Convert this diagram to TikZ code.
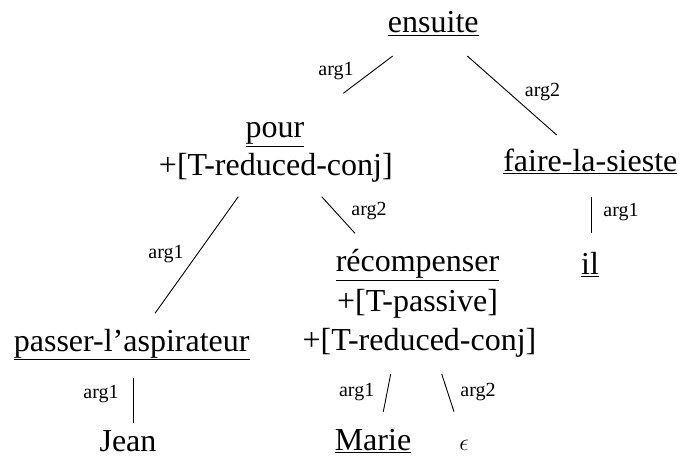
\RequirePackage{fix-cm}
\documentclass[tikz,border=0pt]{standalone}
\usepackage{fontspec}
\setmainfont{Liberation Serif}
\begin{document}
\begin{tikzpicture}[x=1pt,y=-1pt,
  word/.style={font=\fontsize{32}{38}\selectfont, inner sep=0pt, anchor=base},
  lab/.style={font=\fontsize{20}{24}\selectfont, inner sep=0pt, anchor=base},
  conn/.style={line width=0.9pt}]
\useasboundingbox (0,0) rectangle (680,462);
% nodes
\node[word] (ensuite) at (433.3,33) {\underline{ensuite}};
\node[word] (pour) at (275,138) {\underline{pour}};
\node[word] (pourT) at (275.8,176) {+[T-reduced-conj]};
\node[word] (faire) at (590.3,171.7) {\underline{faire-la-sieste}};
\node[word] (il) at (590,275) {\underline{il}};
\node[word] (recomp) at (417.5,271.7) {\underline{récompenser}};
\node[word] (passive) at (417.5,311.7) {+[T-passive]};
\node[word] (recompT) at (419.5,350.5) {+[T-reduced-conj]};
\node[word] (passer) at (131.7,351) {\underline{passer-l'aspirateur}};
\node[word] (jean) at (128,451.7) {Jean};
\node[word] (marie) at (373,450) {\underline{Marie}};
\node[word, font=\fontsize{24}{28}\selectfont] (eps) at (464,450) {$\epsilon$};
% labels
\node[lab] (l1) at (336,76) {arg1};
\node[lab] (l2) at (542.5,96.7) {arg2};
\node[lab] (l3) at (166,259) {arg1};
\node[lab] (l4) at (369,215.7) {arg2};
\node[lab] (l5) at (621,216.7) {arg1};
\node[lab] (l6) at (101,398) {arg1};
\node[lab] (l7) at (356.7,396.7) {arg1};
\node[lab] (l8) at (478,396.7) {arg2};
% connectors
\draw[conn] ([xshift=-40.6pt,yshift=-23pt]ensuite.base) -- ([xshift=68.3pt,yshift=44.7pt]pour.base);
\draw[conn] ([xshift=34pt,yshift=-23pt]ensuite.base) -- ([xshift=-33.6pt,yshift=36.7pt]faire.base);
\draw[conn] ([xshift=-37.5pt,yshift=-20.7pt]pourT.base) -- ([xshift=23.3pt,yshift=37.7pt]passer.base);
\draw[conn] ([xshift=45.9pt,yshift=-20.7pt]pourT.base) -- ([xshift=-62.5pt,yshift=38.4pt]recomp.base);
\draw[conn] ([xshift=0.7pt,yshift=-25pt]faire.base) -- ([xshift=1pt,yshift=41.7pt]il.base);
\draw[conn] ([xshift=1.3pt,yshift=-27pt]passer.base) -- ([xshift=5pt,yshift=28.4pt]jean.base);
\draw[conn] ([xshift=-28.8pt,yshift=-23.5pt]recompT.base) -- ([xshift=10.3pt,yshift=38.3pt]marie.base);
\draw[conn] ([xshift=22.2pt,yshift=-23.5pt]recompT.base) -- ([xshift=-10pt,yshift=38.3pt]eps.base);
\end{tikzpicture}
\end{document}
